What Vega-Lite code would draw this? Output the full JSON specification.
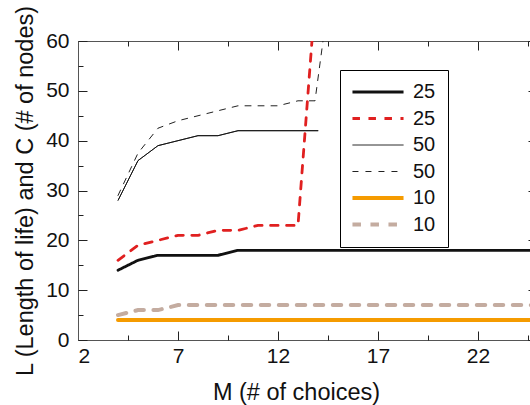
{
  "$schema": "https://vega.github.io/schema/vega-lite/v6.json",
  "width": 452,
  "height": 299,
  "autosize": {"type": "none"},
  "padding": {"left": 78, "top": 41, "right": 0, "bottom": 65},
  "background": "white",
  "config": {
    "font": "Liberation Sans",
    "view": {"stroke": null},
    "axis": {"grid": false, "domainColor": "#555", "tickColor": "#222", "labelColor": "#111", "titleColor": "#111", "titleFontWeight": "normal"}
  },
  "data": {"values": [
    {"s": "L25", "x": 4, "y": 14}, {"s": "L25", "x": 5, "y": 16}, {"s": "L25", "x": 6, "y": 17}, {"s": "L25", "x": 7, "y": 17}, {"s": "L25", "x": 8, "y": 17}, {"s": "L25", "x": 9, "y": 17}, {"s": "L25", "x": 10, "y": 18}, {"s": "L25", "x": 11, "y": 18}, {"s": "L25", "x": 12, "y": 18}, {"s": "L25", "x": 13, "y": 18}, {"s": "L25", "x": 14, "y": 18}, {"s": "L25", "x": 15, "y": 18}, {"s": "L25", "x": 16, "y": 18}, {"s": "L25", "x": 17, "y": 18}, {"s": "L25", "x": 18, "y": 18}, {"s": "L25", "x": 19, "y": 18}, {"s": "L25", "x": 20, "y": 18}, {"s": "L25", "x": 21, "y": 18}, {"s": "L25", "x": 22, "y": 18}, {"s": "L25", "x": 23, "y": 18}, {"s": "L25", "x": 24, "y": 18}, {"s": "L25", "x": 25, "y": 18},
    {"s": "C25", "x": 4, "y": 16}, {"s": "C25", "x": 5, "y": 19}, {"s": "C25", "x": 6, "y": 20}, {"s": "C25", "x": 7, "y": 21}, {"s": "C25", "x": 8, "y": 21}, {"s": "C25", "x": 9, "y": 22}, {"s": "C25", "x": 10, "y": 22}, {"s": "C25", "x": 11, "y": 23}, {"s": "C25", "x": 12, "y": 23}, {"s": "C25", "x": 13, "y": 23}, {"s": "C25", "x": 14, "y": 76},
    {"s": "L50", "x": 4, "y": 28}, {"s": "L50", "x": 5, "y": 36}, {"s": "L50", "x": 6, "y": 39}, {"s": "L50", "x": 7, "y": 40}, {"s": "L50", "x": 8, "y": 41}, {"s": "L50", "x": 9, "y": 41}, {"s": "L50", "x": 10, "y": 42}, {"s": "L50", "x": 11, "y": 42}, {"s": "L50", "x": 12, "y": 42}, {"s": "L50", "x": 13, "y": 42}, {"s": "L50", "x": 14, "y": 42},
    {"s": "C50", "x": 4, "y": 29}, {"s": "C50", "x": 5, "y": 37.5}, {"s": "C50", "x": 6, "y": 42.5}, {"s": "C50", "x": 7, "y": 44}, {"s": "C50", "x": 8, "y": 45}, {"s": "C50", "x": 9, "y": 46}, {"s": "C50", "x": 10, "y": 47}, {"s": "C50", "x": 11, "y": 47}, {"s": "C50", "x": 12, "y": 47}, {"s": "C50", "x": 13, "y": 48}, {"s": "C50", "x": 13.85, "y": 48}, {"s": "C50", "x": 14.3, "y": 61.5},
    {"s": "L10", "x": 4, "y": 4}, {"s": "L10", "x": 5, "y": 4}, {"s": "L10", "x": 6, "y": 4}, {"s": "L10", "x": 7, "y": 4}, {"s": "L10", "x": 8, "y": 4}, {"s": "L10", "x": 9, "y": 4}, {"s": "L10", "x": 10, "y": 4}, {"s": "L10", "x": 11, "y": 4}, {"s": "L10", "x": 12, "y": 4}, {"s": "L10", "x": 13, "y": 4}, {"s": "L10", "x": 14, "y": 4}, {"s": "L10", "x": 15, "y": 4}, {"s": "L10", "x": 16, "y": 4}, {"s": "L10", "x": 17, "y": 4}, {"s": "L10", "x": 18, "y": 4}, {"s": "L10", "x": 19, "y": 4}, {"s": "L10", "x": 20, "y": 4}, {"s": "L10", "x": 21, "y": 4}, {"s": "L10", "x": 22, "y": 4}, {"s": "L10", "x": 23, "y": 4}, {"s": "L10", "x": 24, "y": 4}, {"s": "L10", "x": 25, "y": 4},
    {"s": "C10", "x": 4, "y": 5}, {"s": "C10", "x": 5, "y": 6}, {"s": "C10", "x": 6, "y": 6}, {"s": "C10", "x": 7, "y": 7}, {"s": "C10", "x": 8, "y": 7}, {"s": "C10", "x": 9, "y": 7}, {"s": "C10", "x": 10, "y": 7}, {"s": "C10", "x": 11, "y": 7}, {"s": "C10", "x": 12, "y": 7}, {"s": "C10", "x": 13, "y": 7}, {"s": "C10", "x": 14, "y": 7}, {"s": "C10", "x": 15, "y": 7}, {"s": "C10", "x": 16, "y": 7}, {"s": "C10", "x": 17, "y": 7}, {"s": "C10", "x": 18, "y": 7}, {"s": "C10", "x": 19, "y": 7}, {"s": "C10", "x": 20, "y": 7}, {"s": "C10", "x": 21, "y": 7}, {"s": "C10", "x": 22, "y": 7}, {"s": "C10", "x": 23, "y": 7}, {"s": "C10", "x": 24, "y": 7}, {"s": "C10", "x": 25, "y": 7}
  ]},
  "resolve": {"axis": {"x": "independent", "y": "independent"}},
  "layer": [
    {
      "mark": {"type": "point", "opacity": 0},
      "encoding": {
        "x": {"field": "x", "type": "quantitative", "scale": {"domain": [2, 24.6], "nice": false, "zero": false},
          "axis": {"orient": "bottom", "values": [2, 7, 12, 17, 22], "ticks": false, "domain": true, "labelFontSize": 21, "labelPadding": 5, "title": "M (# of choices)", "titleFontSize": 23.5, "titlePadding": 14, "titleX": 218}},
        "y": {"field": "y", "type": "quantitative", "scale": {"domain": [0, 60], "nice": false, "zero": true},
          "axis": {"orient": "left", "values": [0, 10, 20, 30, 40, 50, 60], "ticks": false, "domain": true, "labelFontSize": 21, "labelPadding": 9, "title": "L (Length of life) and C (# of nodes)", "titleFontSize": 23.5, "titlePadding": 8}}
      }
    },
    {
      "mark": {"type": "point", "opacity": 0},
      "encoding": {
        "x": {"field": "x", "type": "quantitative", "axis": {"orient": "bottom", "values": [2, 7, 12, 17, 22], "tickSize": -9, "labels": false, "domain": false, "title": null}},
        "y": {"field": "y", "type": "quantitative", "axis": {"orient": "left", "values": [0, 10, 20, 30, 40, 50, 60], "tickSize": -9, "labels": false, "domain": false, "title": null}}
      }
    },
    {
      "mark": {"type": "point", "opacity": 0},
      "encoding": {
        "x": {"field": "x", "type": "quantitative", "axis": {"orient": "bottom", "values": [4.5, 9.5, 14.5, 19.5, 24.5], "tickSize": -5, "labels": false, "domain": false, "title": null}},
        "y": {"field": "y", "type": "quantitative", "axis": {"orient": "left", "values": [5, 15, 25, 35, 45, 55], "tickSize": -5, "labels": false, "domain": false, "title": null}}
      }
    },
    {
      "mark": {"type": "point", "opacity": 0},
      "encoding": {
        "x": {"field": "x", "type": "quantitative", "axis": {"orient": "top", "values": [2, 7, 12, 17, 22], "tickSize": -9, "labels": false, "domain": true, "title": null}},
        "y": {"field": "y", "type": "quantitative", "axis": {"orient": "right", "values": [0, 10, 20, 30, 40, 50, 60], "tickSize": -2, "labels": false, "domain": false, "title": null}}
      }
    },
    {
      "mark": {"type": "point", "opacity": 0},
      "encoding": {
        "x": {"field": "x", "type": "quantitative", "axis": {"orient": "top", "values": [4.5, 9.5, 14.5, 19.5, 24.5], "tickSize": -5, "labels": false, "domain": false, "title": null}},
        "y": {"field": "y", "type": "quantitative", "axis": null}
      }
    },
    {
      "mark": {"type": "line", "clip": true, "strokeCap": "round"},
      "encoding": {
        "x": {"field": "x", "type": "quantitative", "axis": null},
        "y": {"field": "y", "type": "quantitative", "axis": null},
        "color": {"field": "s", "type": "nominal", "scale": {"domain": ["L25", "C25", "L50", "C50", "L10", "C10"], "range": ["#111111", "#e02020", "#111111", "#222222", "#f59b00", "#c4aca0"]},
          "legend": {"orient": "none", "legendX": 262, "legendY": 29, "title": " ", "titleOrient": "bottom", "titleFontSize": 1, "titleLineHeight": 1, "titlePadding": -8, "symbolType": "M-4,0L4,0", "symbolSize": 163, "symbolOffset": 16, "labelFontSize": 20, "labelColor": "#111", "labelExpr": "substring(datum.label, 1)", "labelOffset": 25, "fillColor": "white", "strokeColor": "black", "padding": 12, "rowPadding": 6.5}},
        "strokeDash": {"field": "s", "type": "nominal", "scale": {"domain": ["L25", "C25", "L50", "C50", "L10", "C10"], "range": [[1, 0], [7.5, 8.5], [1, 0], [6, 7], [1, 0], [8.5, 9.5]]}},
        "strokeWidth": {"field": "s", "type": "nominal", "scale": {"type": "ordinal", "domain": ["L25", "C25", "L50", "C50", "L10", "C10"], "range": [2.8, 2.8, 1, 1, 4, 4]}}
      }
    }
  ]
}
